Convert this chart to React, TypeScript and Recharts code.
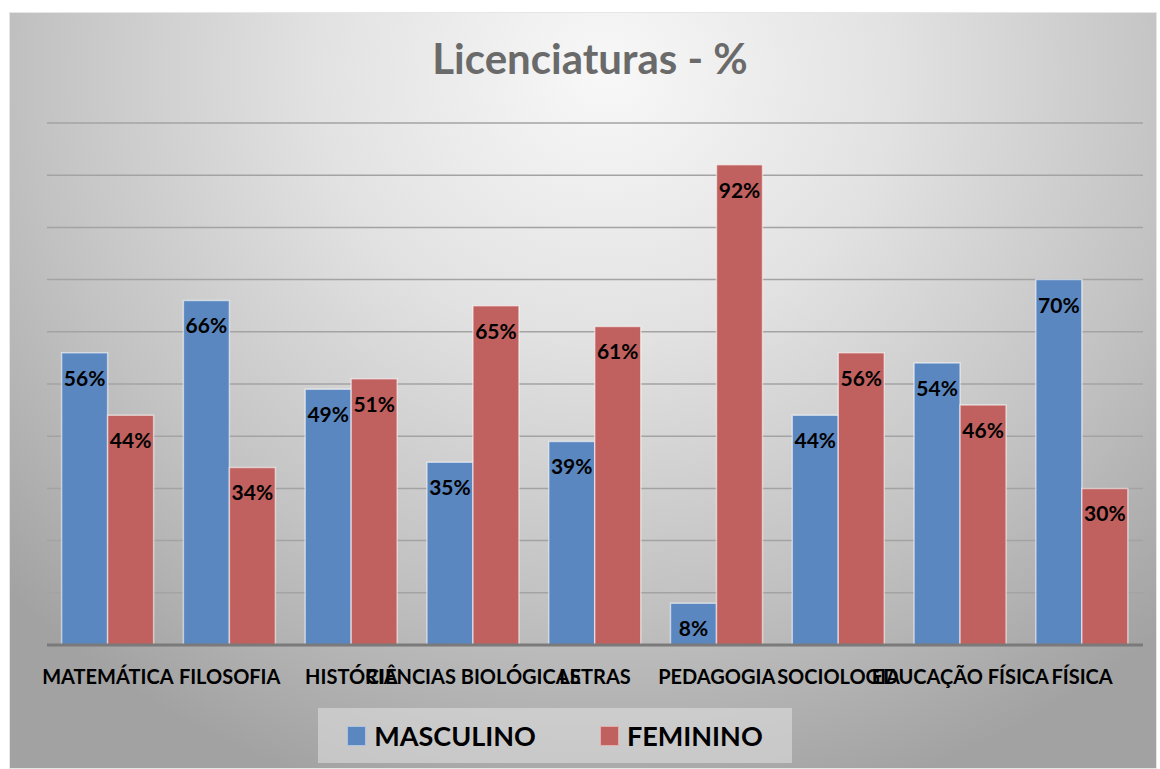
import { BarChart, Bar, XAxis, YAxis, CartesianGrid, LabelList } from "recharts"

const categories = [
  "MATEMÁTICA",
  "FILOSOFIA",
  "HISTÓRIA",
  "CIÊNCIAS BIOLÓGICAS",
  "LETRAS",
  "PEDAGOGIA",
  "SOCIOLOGIA",
  "EDUCAÇÃO FÍSICA",
  "FÍSICA",
]
const masculino = [56, 66, 49, 35, 39, 8, 44, 54, 70]
const feminino = [44, 34, 51, 65, 61, 92, 56, 46, 30]
const yTicks = [0, 10, 20, 30, 40, 50, 60, 70, 80, 90, 100]

const BLUE = "#5b87c1"
const RED = "#c0605f"
const FONT = "Lato, 'Open Sans', sans-serif"

const data = categories.map((name, i) => ({
  name,
  masculino: masculino[i],
  feminino: feminino[i],
}))

const pct = (v: any) => `${v}%`

export default function App() {
  return (
    <div style={{ position: "absolute", left: 0, top: 0, width: 1160, height: 769, background: "#fff", overflow: "hidden" }}>
      <div
        style={{
          position: "absolute",
          left: 9,
          top: 12,
          width: 1148,
          height: 757,
          background: "radial-gradient(ellipse 72% 100% at 52% 8%, #f8f8f8 0%, #e2e2e2 35%, #c2c2c2 70%, #a2a2a2 100%)",
          border: "1px solid #e6e6e6",
          boxSizing: "border-box",
        }}
      />
      <div
        style={{
          position: "absolute",
          left: 0,
          top: 33,
          width: 1180,
          textAlign: "center",
          fontFamily: FONT,
          fontWeight: 700,
          fontSize: 42,
          color: "#6a6a6a",
        }}
      >
        Licenciaturas - %
      </div>
      <div style={{ position: "absolute", left: 0, top: 0 }}>
        <BarChart
          width={1160}
          height={769}
          data={data}
          margin={{ top: 123, right: 17, left: 47, bottom: 0 }}
          barCategoryGap="12%"
          barGap={0}
        >
          <CartesianGrid vertical={false} stroke="#a3a3a3" strokeWidth={1.5} />
          <YAxis hide domain={[0, 100]} ticks={yTicks} width={0} />
          <XAxis
            dataKey="name"
            height={124}
            interval={0}
            tickLine={false}
            axisLine={{ stroke: "#7a7a7a", strokeWidth: 3 }}
            tick={{ fill: "#000", fontFamily: FONT, fontWeight: 700, fontSize: 20 }}
            tickMargin={19}
          />
          <Bar dataKey="masculino" fill={BLUE} stroke="rgba(255,255,255,0.55)" strokeWidth={1.5} isAnimationActive={false}>
            <LabelList
              dataKey="masculino"
              position="insideTop"
              offset={18}
              formatter={pct}
              style={{ fill: "#000", fontFamily: FONT, fontWeight: 700, fontSize: 21 }}
            />
          </Bar>
          <Bar dataKey="feminino" fill={RED} stroke="rgba(255,255,255,0.55)" strokeWidth={1.5} isAnimationActive={false}>
            <LabelList
              dataKey="feminino"
              position="insideTop"
              offset={18}
              formatter={pct}
              style={{ fill: "#000", fontFamily: FONT, fontWeight: 700, fontSize: 21 }}
            />
          </Bar>
        </BarChart>
      </div>
      <div
        style={{
          position: "absolute",
          left: 318,
          top: 708,
          width: 474,
          height: 55,
          background: "rgba(225,225,225,0.55)",
          display: "flex",
          alignItems: "center",
          justifyContent: "center",
          gap: 64,
          fontFamily: FONT,
          fontWeight: 700,
          fontSize: 27,
          color: "#000",
        }}
      >
        {[
          { label: "MASCULINO", color: BLUE },
          { label: "FEMININO", color: RED },
        ].map((it) => (
          <div key={it.label} style={{ display: "flex", alignItems: "center", gap: 8 }}>
            <span style={{ display: "inline-block", width: 17, height: 18, background: it.color, border: "1px solid rgba(255,255,255,0.5)" }} />
            <span>{it.label}</span>
          </div>
        ))}
      </div>
    </div>
  )
}
